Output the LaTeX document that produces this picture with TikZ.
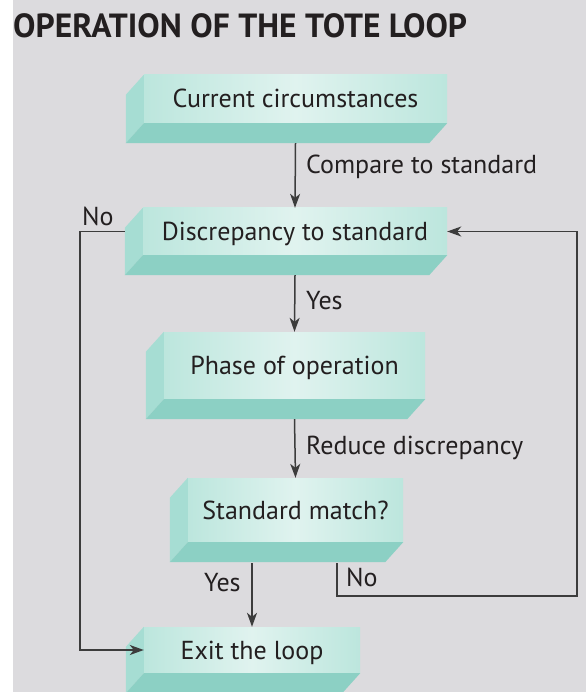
\documentclass[tikz,border=0pt]{standalone}
\usepackage{fontspec}
\setmainfont{PT Sans}
\usepackage{tikz}
\usetikzlibrary{calc,arrows.meta}
\definecolor{paper}{HTML}{DCDBDE}
\definecolor{ink}{HTML}{231F20}
\definecolor{wirec}{HTML}{3C3C3C}
\definecolor{faceedge}{HTML}{BCE6DD}
\definecolor{facemid}{HTML}{E0F3EF}
\definecolor{sideface}{HTML}{A6DDD3}
\definecolor{lowface}{HTML}{8CD0C4}
\tikzset{
  slab/.style={rectangle, inner sep=0pt, left color=faceedge, right color=faceedge, middle color=facemid,
    text=ink, font=\fontsize{26}{30}\selectfont, text height=18pt, text depth=0pt},
  side/.style={fill=sideface},
  low/.style={fill=lowface},
  link/.style={draw=wirec, line width=1.5pt, -{Stealth[length=14pt,width=10pt,inset=4pt]}},
  lab/.style={text=ink, font=\fontsize{26}{30}\selectfont, inner sep=0pt},
  head/.style={text=ink, font=\fontsize{33.5}{38}\selectfont\bfseries, inner sep=0pt},
}
\newcommand{\slabdepth}[1]{%
  \fill[side] (#1.north west) -- (#1.south west) -- ++(-18,20) -- ($(#1.north west)+(-18,20)$) -- cycle;
  \fill[low] (#1.south west) -- (#1.south east) -- ++(-18,20) -- ($(#1.south west)+(-18,20)$) -- cycle;
}

\begin{document}
\begin{tikzpicture}[x=1pt, y=-1pt]
  \useasboundingbox (0,0) rectangle (586,692);
  \fill[white] (0,0) rectangle (586,692);
  \fill[paper] (13,0) rectangle (586,692);
  \clip (0,0) rectangle (586,692);

  \node[head, anchor=base west] (title) at (13,38) {OPERATION OF THE TOTE LOOP};

  \node[slab, minimum width=303pt, minimum height=48pt] (cur) at (295.5,99) {Current circumstances};
  \node[slab, minimum width=304pt, minimum height=47pt] (disc) at (295,231.5) {Discrepancy to standard};
  \node[slab, minimum width=261pt, minimum height=67pt] (phase) at (294.5,365.5) {Phase of operation};
  \node[slab, minimum width=215pt, minimum height=64pt] (match) at (295.5,510) {Standard match?};
  \node[slab, minimum width=216pt, minimum height=46pt] (exit) at (252,650) {Exit the loop};
  \foreach \b in {cur,disc,phase,match,exit} {\slabdepth{\b}}

  \coordinate (rturn) at (577,596);
  \coordinate (lturn) at (80,650);

  \draw[link] (cur.south) ++(0,20) -- (disc.north);
  \draw[link] (disc.south) ++(0,20) -- (phase.north);
  \draw[link] (phase.south) ++(0,20) -- (match.north);
  \draw[link] (match.south -| exit.north) ++(0,21) -- (exit.north);
  \draw[link] (match.south) ++(41.5,21) |- (rturn) |- (disc.east);
  \draw[link] (disc.west) ++(-18,0) -| (lturn) -- (exit.west);

  \node[lab, anchor=base west] (cmp) at (306,174) {Compare to standard};
  \node[lab, anchor=base west] (yes1) at (306,309) {Yes};
  \node[lab, anchor=base west] (red) at (306,454) {Reduce discrepancy};
  \node[lab, anchor=base west] (yes2) at (204,591) {Yes};
  \node[lab, anchor=base west] (no2) at (346,586) {No};
  \node[lab, anchor=base west] (no1) at (82,226) {No};
\end{tikzpicture}
\end{document}
